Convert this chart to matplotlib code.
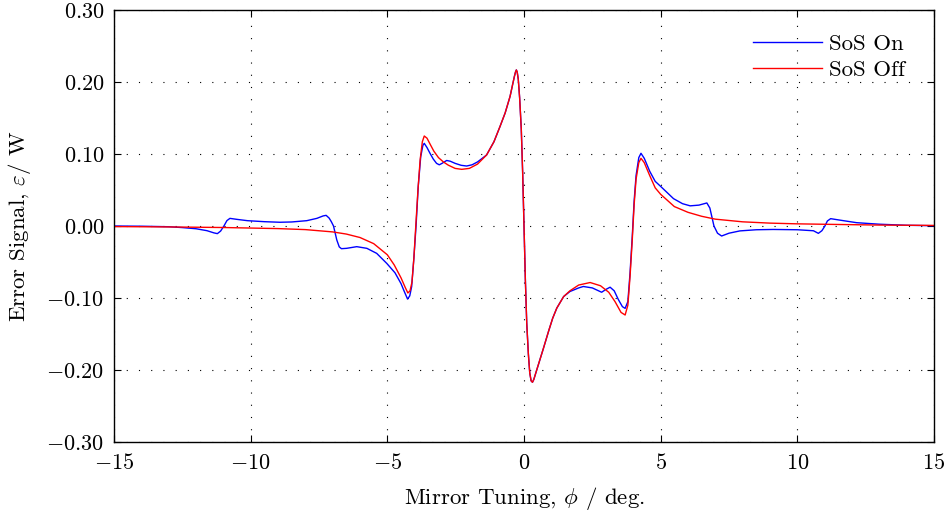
import matplotlib
matplotlib.use('agg')
import matplotlib.pyplot as plt
from matplotlib.ticker import FuncFormatter

# SoS Off (red)
off_x = [-15.00, -13.00, -11.00, -9.00, -8.00, -7.00, -6.50, -6.00, -5.50, -5.00,
         -4.75, -4.50, -4.35, -4.25, -4.17, -4.10, -4.03, -3.96, -3.88, -3.80,
         -3.72, -3.65, -3.55, -3.44, -3.30, -3.13, -2.95, -2.77, -2.52, -2.28,
         -2.00, -1.70, -1.37, -1.10, -0.88, -0.69, -0.51, -0.42, -0.35, -0.31,
         -0.28, -0.25, -0.21, -0.16, -0.10, -0.05, 0.00, 0.05, 0.10, 0.16,
         0.21, 0.26, 0.31, 0.36, 0.44, 0.53, 0.62, 0.71, 0.90, 1.05,
         1.20, 1.45, 1.68, 2.00, 2.42, 2.80, 3.10, 3.33, 3.55, 3.70,
         3.80, 3.88, 3.96, 4.03, 4.10, 4.20, 4.28, 4.40, 4.60, 4.80,
         5.00, 5.50, 6.00, 6.50, 7.00, 8.00, 9.00, 10.00, 11.00, 13.00,
         15.00]
off_y = [-0.0008, -0.0013, -0.0021, -0.0036, -0.0050, -0.0082, -0.0112, -0.0160, -0.0245, -0.0400,
         -0.0540, -0.0720, -0.0850, -0.0930, -0.0900, -0.0780, -0.0450, 0.0000, 0.0500, 0.0920,
         0.1170, 0.1250, 0.1220, 0.1140, 0.1040, 0.0950, 0.0890, 0.0845, 0.0800, 0.0787,
         0.0800, 0.0860, 0.0986, 0.1170, 0.1380, 0.1570, 0.1800, 0.1960, 0.2080, 0.2140,
         0.2167, 0.2140, 0.2040, 0.1780, 0.1350, 0.0750, 0.0000, -0.0750, -0.1350, -0.1780,
         -0.2040, -0.2150, -0.2170, -0.2130, -0.2030, -0.1920, -0.1810, -0.1700, -0.1460, -0.1280,
         -0.1140, -0.0980, -0.0900, -0.0820, -0.0785, -0.0830, -0.0920, -0.1050, -0.1200, -0.1236,
         -0.1100, -0.0700, -0.0200, 0.0300, 0.0650, 0.0880, 0.0940, 0.0880, 0.0700, 0.0530,
         0.0440, 0.0270, 0.0190, 0.0135, 0.0095, 0.0058, 0.0040, 0.0030, 0.0024, 0.0013,
         0.0008]

# SoS On (blue)
on_x = [-15.00, -14.00, -13.00, -12.50, -12.00, -11.60, -11.35, -11.22, -11.10, -10.98,
        -10.87, -10.76, -10.50, -10.12, -9.50, -8.93, -8.50, -7.95, -7.58, -7.35,
        -7.24, -7.13, -7.05, -6.97, -6.85, -6.76, -6.68, -6.49, -6.12, -5.75,
        -5.39, -5.02, -4.72, -4.50, -4.38, -4.26, -4.18, -4.11, -4.03, -3.95,
        -3.87, -3.78, -3.70, -3.65, -3.55, -3.44, -3.32, -3.20, -3.10, -3.00,
        -2.83, -2.70, -2.52, -2.30, -2.10, -1.90, -1.70, -1.37, -1.10, -0.88,
        -0.69, -0.51, -0.42, -0.35, -0.31, -0.28, -0.25, -0.21, -0.16, -0.10,
        -0.05, 0.00, 0.05, 0.10, 0.16, 0.21, 0.26, 0.31, 0.36, 0.44,
        0.53, 0.62, 0.71, 0.90, 1.05, 1.20, 1.45, 1.68, 2.00, 2.17,
        2.50, 2.84, 3.00, 3.15, 3.30, 3.45, 3.60, 3.70, 3.80, 3.88,
        3.96, 4.03, 4.10, 4.20, 4.28, 4.40, 4.60, 4.80, 5.00, 5.47,
        5.80, 6.08, 6.40, 6.69, 6.80, 6.95, 7.08, 7.23, 7.50, 7.90,
        8.50, 9.12, 10.00, 10.59, 10.77, 10.90, 11.01, 11.10, 11.22, 11.50,
        12.17, 13.00, 14.00, 15.00]
on_y = [0.0000, -0.0003, -0.0010, -0.0022, -0.0038, -0.0065, -0.0095, -0.0106, -0.0070, 0.0000,
        0.0075, 0.0106, 0.0092, 0.0074, 0.0060, 0.0052, 0.0056, 0.0074, 0.0106, 0.0140,
        0.0148, 0.0110, 0.0060, 0.0000, -0.0194, -0.0290, -0.0315, -0.0310, -0.0287, -0.0310,
        -0.0380, -0.0520, -0.0650, -0.0800, -0.0910, -0.1015, -0.0970, -0.0840, -0.0450, 0.0000,
        0.0550, 0.0960, 0.1120, 0.1148, 0.1090, 0.1010, 0.0930, 0.0870, 0.0850, 0.0870,
        0.0910, 0.0900, 0.0870, 0.0843, 0.0833, 0.0850, 0.0890, 0.0986, 0.1170, 0.1380,
        0.1570, 0.1800, 0.1960, 0.2080, 0.2140, 0.2167, 0.2140, 0.2040, 0.1780, 0.1350,
        0.0750, 0.0000, -0.0750, -0.1350, -0.1780, -0.2040, -0.2150, -0.2170, -0.2130, -0.2030,
        -0.1920, -0.1810, -0.1700, -0.1460, -0.1280, -0.1140, -0.0980, -0.0910, -0.0860, -0.0840,
        -0.0860, -0.0920, -0.0880, -0.0850, -0.0900, -0.1020, -0.1120, -0.1144, -0.1050, -0.0650,
        -0.0150, 0.0350, 0.0700, 0.0950, 0.1010, 0.0940, 0.0760, 0.0620, 0.0550, 0.0380,
        0.0310, 0.0280, 0.0290, 0.0320, 0.0250, 0.0000, -0.0100, -0.0139, -0.0100, -0.0068,
        -0.0052, -0.0048, -0.0052, -0.0066, -0.0102, -0.0065, 0.0000, 0.0070, 0.0102, 0.0085,
        0.0046, 0.0025, 0.0010, 0.0004]

x_ticks = [-15, -10, -5, 0, 5, 10, 15]
y_ticks = [-0.30, -0.20, -0.10, 0.00, 0.10, 0.20, 0.30]

plt.rcParams['font.family'] = ['cmr10', 'DejaVu Serif']
plt.rcParams['mathtext.fontset'] = 'cm'
plt.rcParams['font.size'] = 16

fig = plt.figure(figsize=(9.48, 5.18), dpi=100)
ax = fig.add_axes([0.1203, 0.1467, 0.8649, 0.834])

ax.plot(on_x, on_y, color='#0000ff', lw=1.0, label='SoS On')
ax.plot(off_x, off_y, color='#ff0000', lw=1.0, label='SoS Off')

ax.set_xlim(-15, 15)
ax.set_ylim(-0.30, 0.30)
ax.set_xticks(x_ticks)
ax.set_yticks(y_ticks)
ax.xaxis.set_major_formatter(FuncFormatter(lambda v, p: '$%d$' % round(v)))
ax.yaxis.set_major_formatter(FuncFormatter(lambda v, p: '$%.2f$' % v))
ax.tick_params(direction='in', length=5, width=0.8, top=True, right=True,
               labelsize=16)
ax.tick_params(axis='x', pad=8)
ax.tick_params(axis='y', pad=7)
ax.grid(True, color='black', linestyle=(0, (1, 10)), linewidth=0.8)
for s in ax.spines.values():
    s.set_linewidth(1.0)

ax.set_xlabel(r'Mirror Tuning, $\phi$ / deg.', fontsize=16.5, labelpad=8.5)
ax.set_ylabel(r'Error Signal, $\varepsilon$/ W', fontsize=16.5, labelpad=10)

ax.legend(loc='upper right', bbox_to_anchor=(0.965, 0.945), frameon=False,
          fontsize=16.5, handlelength=3.05, handletextpad=0.3,
          labelspacing=0.25, borderpad=0, borderaxespad=0)

fig.savefig('out.png', dpi=100)
plt.close(fig)
